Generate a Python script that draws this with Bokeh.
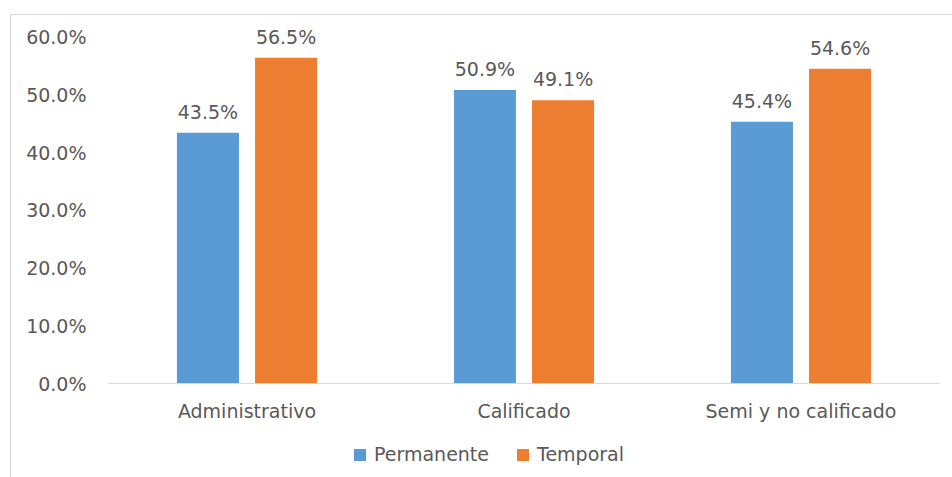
from bokeh.plotting import figure
from bokeh.layouts import column
from bokeh.models import ColumnDataSource, FactorRange, Legend, LegendItem, NumeralTickFormatter, FixedTicker, Range1d
from bokeh.transform import dodge
from bokeh.core.properties import value
from bokeh.embed import file_html
from bokeh.resources import INLINE

categories = ["Administrativo", "Calificado", "Semi y no calificado"]
permanente = [0.435, 0.509, 0.454]
temporal = [0.565, 0.491, 0.546]
series_names = ["Permanente", "Temporal"]
y_ticks = [0.0, 0.1, 0.2, 0.3, 0.4, 0.5, 0.6]

BLUE = "#5B9BD5"
ORANGE = "#ED7D31"
TEXT = "#595959"
FONT = "DejaVu Sans"
FS = "19px"

src = ColumnDataSource(dict(
    cat=categories,
    perm=permanente,
    temp=temporal,
    perm_lbl=[f"{v*100:.1f}%" for v in permanente],
    temp_lbl=[f"{v*100:.1f}%" for v in temporal],
))

# main chart; headroom above 60% keeps the value labels inside the frame
p = figure(
    x_range=FactorRange(*categories, range_padding=0.0),
    y_range=Range1d(0, 0.6 + 21 / 576.7),
    width=942, height=410,
    output_backend="svg", toolbar_location=None,
    min_border_left=97, min_border_right=14,
    min_border_top=1, min_border_bottom=42,
)
p.outline_line_color = None
p.xgrid.grid_line_color = None
p.ygrid.grid_line_color = None

bw = 0.224
off = 0.141
p.vbar(x=dodge("cat", -off, range=p.x_range), top="perm", width=bw, source=src,
       fill_color=BLUE, line_color=None)
p.vbar(x=dodge("cat", off, range=p.x_range), top="temp", width=bw, source=src,
       fill_color=ORANGE, line_color=None)

for col, lbl, dx in (("perm", "perm_lbl", -off), ("temp", "temp_lbl", off)):
    p.text(x=dodge("cat", dx, range=p.x_range), y=col, text=lbl, source=src,
           text_align="center", text_baseline="bottom", y_offset=-10,
           text_font=value(FONT), text_font_size=FS, text_color=TEXT)

p.yaxis.ticker = FixedTicker(ticks=y_ticks)
p.yaxis.formatter = NumeralTickFormatter(format="0.0%")
p.yaxis.axis_line_color = None
p.yaxis.major_tick_line_color = None
p.yaxis.minor_tick_line_color = None
p.yaxis.major_tick_out = 0
p.yaxis.minor_tick_out = 0
p.yaxis.major_label_standoff = 22
p.yaxis.major_label_text_font = FONT
p.yaxis.major_label_text_font_size = FS
p.yaxis.major_label_text_color = TEXT

p.xaxis.axis_line_color = "#D9D9D9"
p.xaxis.axis_line_width = 1
p.xaxis.major_tick_line_color = None
p.xaxis.minor_tick_line_color = None
p.xaxis.major_tick_out = 0
p.xaxis.minor_tick_out = 0
p.xaxis.major_label_standoff = 16
p.xaxis.major_label_text_font = FONT
p.xaxis.major_label_text_font_size = FS
p.xaxis.major_label_text_color = TEXT

# legend strip underneath the chart (its swatches come from off-range bars)
lg = figure(
    width=942, height=52, x_range=Range1d(0, 1), y_range=Range1d(0, 1),
    output_backend="svg", toolbar_location=None,
    min_border=0,
)
lg.axis.visible = False
lg.grid.visible = False
lg.outline_line_color = None
k1 = lg.vbar(x=[-10], top=[-10], width=0.1, fill_color=BLUE, line_color=None)
k2 = lg.vbar(x=[-10], top=[-10], width=0.1, fill_color=ORANGE, line_color=None)

legend = Legend(
    items=[LegendItem(label=series_names[0], renderers=[k1]),
           LegendItem(label=series_names[1], renderers=[k2])],
    orientation="horizontal",
    location=(244, 12),
    label_text_font=FONT, label_text_font_size=FS, label_text_color=TEXT,
    glyph_width=15, glyph_height=15, spacing=26, label_standoff=7,
    border_line_color=None, background_fill_alpha=0,
    padding=0, margin=0,
)
lg.add_layout(legend, "center")

layout = column(p, lg, spacing=0, styles={
    "margin-left": "10px", "margin-top": "14px",
    "border-left": "1px solid #D9D9D9", "border-top": "1px solid #D9D9D9",
})

open("out.html", "w").write(file_html(layout, INLINE))
